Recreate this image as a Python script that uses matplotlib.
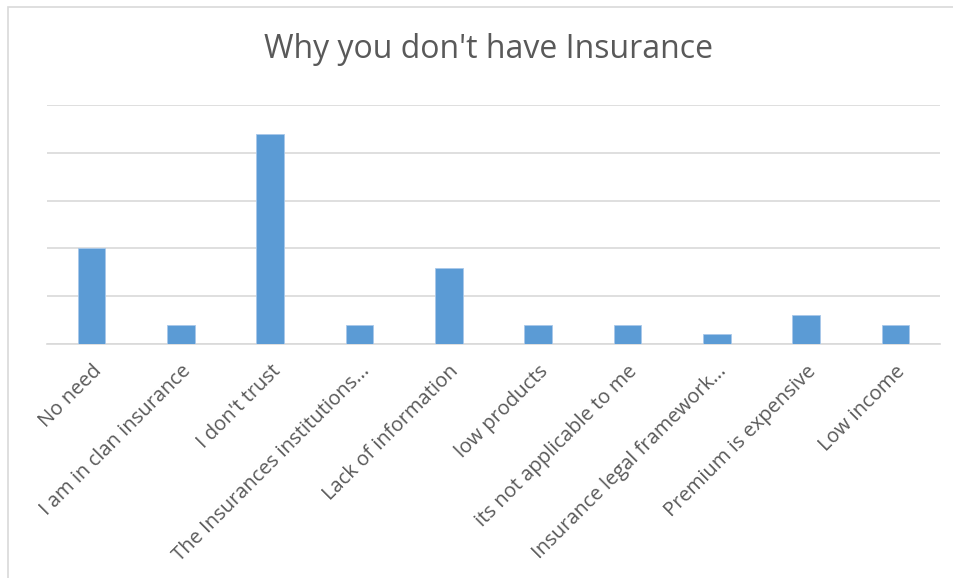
import matplotlib.pyplot as plt
import matplotlib.patches as patches
import numpy as np

plt.rcParams['font.family'] = ['Open Sans', 'DejaVu Sans']

categories = ['No need', 'I am in clan insurance', "I don't trust",
              'The Insurances institutions...', 'Lack of information',
              'low products', 'its not applicable to me',
              'Insurance legal framework...', 'Premium is expensive', 'Low income']
values = [10, 2, 22, 2, 8, 2, 2, 1, 3, 2]
y_ticks = [0, 5, 10, 15, 20, 25]

W, H = 954, 578
fig = plt.figure(figsize=(W / 100, H / 100), dpi=100)

# outer chart frame
fig.patches.append(patches.Rectangle((8 / W, -0.01), 1.0, 1 - 7 / H + 0.01,
                                     transform=fig.transFigure, fill=False,
                                     edgecolor='#d9d9d9', linewidth=1.2))

ax = fig.add_axes([47 / W, 1 - 344 / H, (940 - 47) / W, (344 - 105) / H])
x = np.arange(len(categories))
ax.bar(x, values, width=0.31, color='#5b9bd5', edgecolor='#a9c8ea', linewidth=0.6, zorder=3)

ax.set_xlim(-0.5, len(categories) - 0.5)
ax.set_ylim(0, 25)
ax.set_yticks(y_ticks)
ax.yaxis.grid(True, color='#d9d9d9', linewidth=1.2, zorder=0)
ax.tick_params(axis='y', left=False, labelleft=False)
ax.tick_params(axis='x', bottom=False, pad=9)
for s in ['top', 'right', 'left']:
    ax.spines[s].set_visible(False)
ax.spines['bottom'].set_color('#d9d9d9')
ax.spines['bottom'].set_linewidth(1.2)

ax.set_xticks(x)
ax.set_xticklabels(categories, rotation=45, ha='right', rotation_mode='anchor',
                   fontsize=14.5, color='#595959')

fig.text(489 / W, 1 - 50 / H, "Why you don't have Insurance", ha='center', va='center',
         fontsize=23, color='#595959')

plt.savefig('out.png', dpi=100)
